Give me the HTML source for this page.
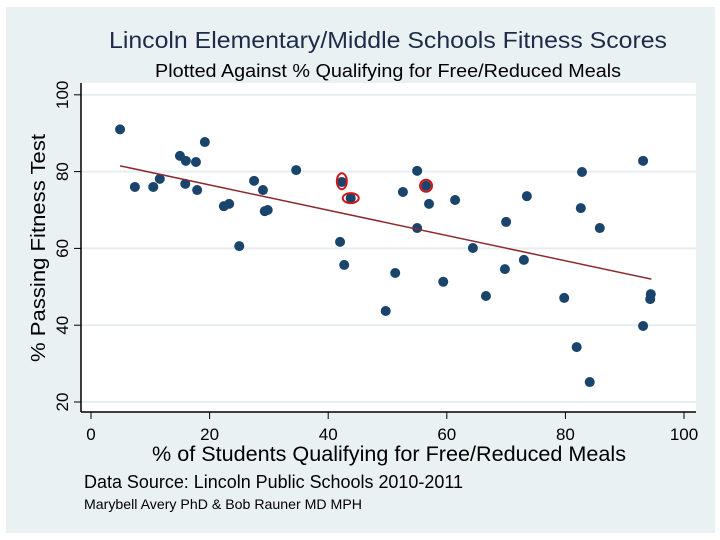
<!DOCTYPE html>
<html><head><meta charset="utf-8"><style>
body{margin:0;background:#fff;}
svg{display:block;font-family:"Liberation Sans",sans-serif;}
</style></head><body>
<svg width="720" height="540" viewBox="0 0 720 540">
<rect x="6" y="7" width="709" height="526" fill="#eaf1f3"/>
<rect x="81" y="83" width="615" height="329" fill="#ffffff"/>
<text x="388" y="48" text-anchor="middle" font-size="23" fill="#1e2b48" textLength="558" lengthAdjust="spacingAndGlyphs">Lincoln Elementary/Middle Schools Fitness Scores</text>
<text x="388" y="77" text-anchor="middle" font-size="18" fill="#000" textLength="466" lengthAdjust="spacingAndGlyphs">Plotted Against % Qualifying for Free/Reduced Meals</text>
<g id="grid"></g>
<g id="axes"></g>
<g id="marks"></g>
<text transform="translate(45,248) rotate(-90)" text-anchor="middle" font-size="20" fill="#000" textLength="228" lengthAdjust="spacingAndGlyphs">% Passing Fitness Test</text>
<text x="389" y="461" text-anchor="middle" font-size="21" fill="#000" textLength="474" lengthAdjust="spacingAndGlyphs">% of Students Qualifying for Free/Reduced Meals</text>
<text x="84" y="488" font-size="18" fill="#000" textLength="379" lengthAdjust="spacingAndGlyphs">Data Source: Lincoln Public Schools 2010-2011</text>
<text x="84" y="509" font-size="14" fill="#000" textLength="278" lengthAdjust="spacingAndGlyphs">Marybell Avery PhD &amp; Bob Rauner MD MPH</text>
</svg>
<script>
const xTicks=[0,20,40,60,80,100];
const yTicks=[20,40,60,80,100];
const xVals=[4.9,7.4,10.5,11.6,15.0,16.0,17.7,19.2,15.9,17.9,22.4,23.3,25.0,27.5,29.0,29.3,29.8,34.6,42.3,43.8,42.0,42.7,49.7,51.3,52.6,55.0,56.5,57.0,55.0,59.4,61.4,64.4,66.6,70.0,69.8,73.0,73.5,79.8,81.9,82.6,82.8,84.1,85.8,93.1,93.1,94.4,94.3];
const yVals=[91.0,76.0,76.0,78.1,84.1,82.8,82.5,87.7,76.8,75.2,71.0,71.6,60.6,77.6,75.2,69.7,70.0,80.4,77.3,73.1,61.7,55.7,43.7,53.6,74.7,80.2,76.3,71.6,65.3,51.3,72.6,60.1,47.6,66.9,54.6,57.0,73.6,47.1,34.3,70.5,79.9,25.2,65.3,82.8,39.8,48.1,46.8];
const fitX=[4.9,94.5];
const fitY=[81.5,52.0];
const highlightX=[42.3,43.8,56.5];
const highlightY=[77.5,73.1,76.3];
const highlightRx=[5,8,6];
const highlightRy=[8,5,6];
const NS="http://www.w3.org/2000/svg";
const sx=v=>91+v*5.93;
const sy=v=>402-(v-20)*3.84;
function mk(tag,attrs,parent){const e=document.createElementNS(NS,tag);for(const k in attrs)e.setAttribute(k,attrs[k]);document.getElementById(parent).appendChild(e);return e;}
yTicks.forEach(t=>{
 const g=mk('line',{x1:81,x2:696,y1:sy(t),y2:sy(t),stroke:'#e6eef1','stroke-width':2},'grid');
 
 
 const tk=mk('line',{x1:74,x2:81,y1:sy(t),y2:sy(t),stroke:'#000','stroke-width':1},'axes');
 
 
 const lb=mk('text',{transform:`translate(68,${sy(t)}) rotate(-90)`,'text-anchor':'middle','font-size':17},'axes');
 lb.textContent=t;
 
 
});
xTicks.forEach(t=>{
 const tk=mk('line',{x1:sx(t),x2:sx(t),y1:412,y2:419,stroke:'#000','stroke-width':1},'axes');
 
 
 const lb=mk('text',{x:sx(t),y:440,'text-anchor':'middle','font-size':17},'axes');
 lb.textContent=t;
 
 
});
const ya=mk('line',{x1:81,x2:81,y1:83,y2:412,stroke:'#000','stroke-width':1.5},'axes');


const xa=mk('line',{x1:81,x2:696,y1:412,y2:412,stroke:'#000','stroke-width':1.5},'axes');


xVals.forEach((v,i)=>{
 const c=mk('circle',{cx:sx(v),cy:sy(yVals[i]),r:5,fill:'#1a446c'},'marks');
 
 
});
const fl=mk('line',{x1:sx(fitX[0]),y1:sy(fitY[0]),x2:sx(fitX[1]),y2:sy(fitY[1]),stroke:'#8b2a2e','stroke-width':1.5},'marks');


highlightX.forEach((v,i)=>{
 const e=mk('ellipse',{cx:sx(v),cy:sy(highlightY[i]),rx:highlightRx[i],ry:highlightRy[i],fill:'none',stroke:'#d01818','stroke-width':2},'marks');
 
 
});
</script>
</body></html>
